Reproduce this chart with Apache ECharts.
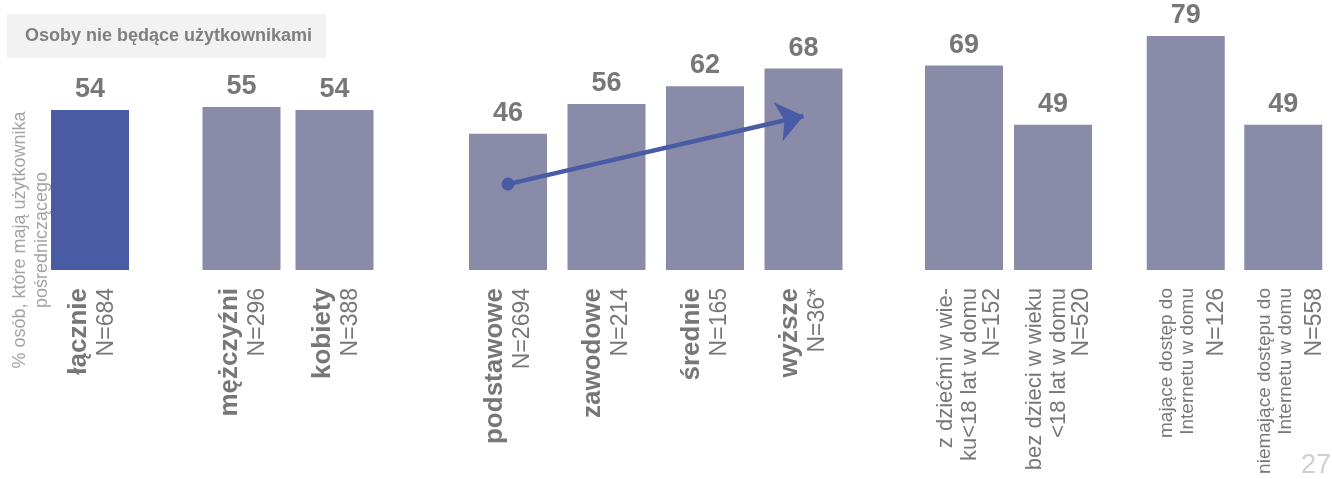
<!DOCTYPE html>
<html><head><meta charset="utf-8">
<script src="https://cdn.jsdelivr.net/npm/echarts@6/dist/echarts.min.js"></script>
<style>html,body{margin:0;padding:0;background:#fff}#c{width:1332px;height:479px}</style>
</head><body><div id="c"></div>
<script>
// ---- data ----
const catsTotal = ['łącznie'];
const valsTotal = [54];
const nTotal = ['N=684'];

const catsGender = ['mężczyźni', 'kobiety'];
const valsGender = [55, 54];
const nGender = ['N=296', 'N=388'];

const catsEdu = ['podstawowe', 'zawodowe', 'średnie', 'wyższe'];
const valsEdu = [46, 56, 62, 68];
const nEdu = ['N=2694', 'N=214', 'N=165', 'N=36*'];

const catsKids = ['z dziećmi w wie-\nku<18 lat w domu', 'bez dzieci w wieku\n<18 lat w domu'];
const valsKids = [69, 49];
const nKids = ['N=152', 'N=520'];

const catsNet = ['mające dostęp do\nInternetu w domu', 'niemające dostępu do\nInternetu w domu'];
const valsNet = [79, 49];
const nNet = ['N=126', 'N=558'];

const trendStartEnd = [29, 52]; // arrow from podstawowe to wyższe (value units)

const titleText = 'Osoby nie będące użytkownikami';
const yTitle = '% osób, które mają użytkownika\npośredniczącego';
const pageNo = '27';

// ---- styles ----
const FONT = 'Liberation Sans';
const GRAY = '#777777';
const BAR = '#8a8aa9';
const BAR_MAIN = '#4a5ba6';

const groups = [
  {cats: catsTotal, vals: valsTotal, ns: nTotal, left: 45, width: 90, color: BAR_MAIN, style: 'big', shift: 6},
  {cats: catsGender, vals: valsGender, ns: nGender, left: 195, width: 186, color: BAR, style: 'big', shift: 6},
  {cats: catsEdu, vals: valsEdu, ns: nEdu, left: 458.75, width: 394, color: BAR, style: 'big', shift: 2},
  {cats: catsKids, vals: valsKids, ns: nKids, left: 919.5, width: 178, color: BAR, style: 'mid', shift: 10},
  {cats: catsNet, vals: valsNet, ns: nNet, left: 1137, width: 197, color: BAR, style: 'small', shift: 20}
];

const grid = [], xAxis = [], yAxis = [], series = [];
groups.forEach((g, i) => {
  grid.push({left: g.left, width: g.width, top: 33, bottom: 209});
  const nMap = {};
  g.cats.forEach((c, k) => nMap[c] = g.ns[k]);
  xAxis.push({
    type: 'category', gridIndex: i, data: g.cats,
    axisLine: {show: false}, axisTick: {show: false},
    axisLabel: {
      interval: 0, rotate: 90, margin: 18,
      padding: [g.shift, 0, 0, 0],
      formatter: (v) => {
        const lines = v.split('\n').map(l => '{a|' + l + '}');
        return lines.join('\n') + '\n{b|' + nMap[v] + '}';
      },
      rich: g.style === 'big' ? {
        a: {fontFamily: FONT, fontSize: 26, fontWeight: 'bold', color: GRAY, lineHeight: 27, align: 'right'},
        b: {fontFamily: FONT, fontSize: 23, color: GRAY, lineHeight: 29, align: 'right'}
      } : g.style === 'mid' ? {
        a: {fontFamily: FONT, fontSize: 22, color: GRAY, lineHeight: 24, align: 'right'},
        b: {fontFamily: FONT, fontSize: 23, color: GRAY, lineHeight: 23, align: 'right'}
      } : {
        a: {fontFamily: FONT, fontSize: 19, color: GRAY, lineHeight: 21, align: 'right'},
        b: {fontFamily: FONT, fontSize: 23, color: GRAY, lineHeight: 36, align: 'right'}
      }
    }
  });
  yAxis.push({type: 'value', gridIndex: i, min: 0, max: 80, show: false});
  const s = {
    type: 'bar', xAxisIndex: i, yAxisIndex: i, data: g.vals, barWidth: 78,
    itemStyle: {color: g.color},
    label: {show: true, position: 'top', distance: 7, fontFamily: FONT, fontSize: 27, fontWeight: 'bold', color: GRAY},
    silent: true
  };
  if (i === 2) {
    s.markLine = {
      silent: true,
      lineStyle: {color: BAR_MAIN, width: 4.5, type: 'solid'},
      label: {show: false},
      data: [[
        {coord: [catsEdu[0], trendStartEnd[0]], symbol: 'circle', symbolSize: 13},
        {coord: [catsEdu[3], trendStartEnd[1]], symbol: 'arrow', symbolSize: [30, 26]}
      ]]
    };
  }
  series.push(s);
});

const chart = echarts.init(document.getElementById('c'), null, {renderer: 'canvas'});
chart.setOption({
  animation: false,
  backgroundColor: '#fff',
  title: {
    text: titleText, left: 7, top: 14,
    padding: [13, 14, 13, 18],
    backgroundColor: '#f2f2f2',
    textStyle: {fontFamily: FONT, fontSize: 18, fontWeight: 'bold', color: '#7f7f7f', lineHeight: 18}
  },
  grid, xAxis, yAxis, series,
  graphic: [
    {type: 'text', x: 31, y: 240, rotation: Math.PI / 2,
     style: {text: yTitle, fontFamily: FONT, fontSize: 18, lineHeight: 22, fill: '#a3a3a3', align: 'center', verticalAlign: 'middle'}},
    {type: 'text', x: 1331, y: 479, 
     style: {text: pageNo, fontFamily: FONT, fontSize: 27, fill: '#d0d0d0', align: 'right', verticalAlign: 'bottom'}}
  ]
});
</script></body></html>
